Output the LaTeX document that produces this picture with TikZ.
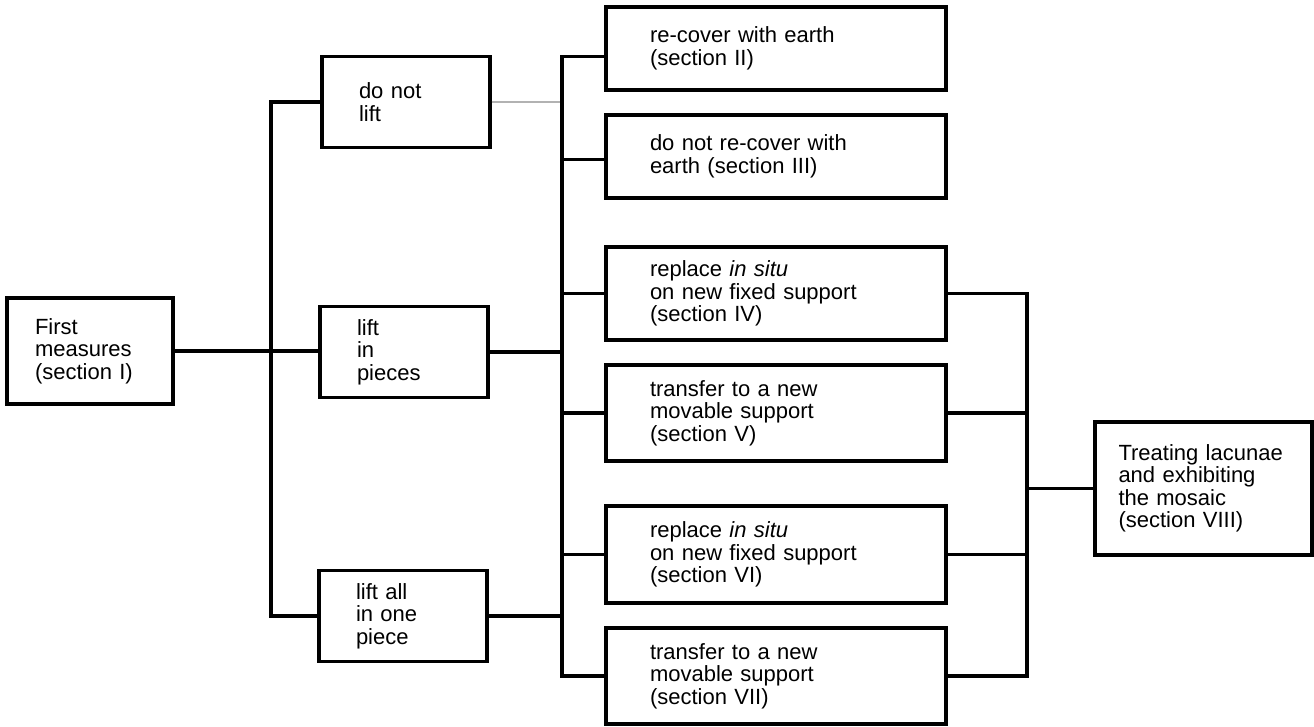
\documentclass[tikz,border=0pt]{standalone}
\usepackage{fontspec}
\setmainfont{Liberation Sans}
\begin{document}
\begin{tikzpicture}[x=1pt,y=-1pt,
    box/.style={draw, line width=3.2pt, align=left, inner ysep=0pt,
      font=\fontsize{22}{22.5}\selectfont},
    firstbox/.style={box, text width=110pt, inner xsep=28pt},
    liftbox/.style={box, text width=94pt, inner xsep=37pt, minimum height=91pt},
    sectbox/.style={box, text width=252pt, inner xsep=44pt},
    link/.style={line width=3.2pt, line cap=rect},
    faint/.style={line width=1.2pt, gray!60}]
  \useasboundingbox (0,0) rectangle (1314,726);
  % boxes
  \node [firstbox, minimum height=106pt] (fm) at (90,351) {First\\measures\\(section I)};
  \node [liftbox] (dnl) at (406,102) {do not\\lift};
  \node [liftbox] (lip) at (404,352) {lift\\in\\pieces};
  \node [liftbox] (lao) at (403,616) {lift all\\in one\\piece};
  \node [sectbox, minimum height=83pt] (s2) at (776,48.5) {re-cover with earth\\(section II)};
  \node [sectbox, minimum height=83pt] (s3) at (776,156.5) {do not re-cover with\\earth (section III)};
  \node [sectbox, minimum height=93pt] (s4) at (776,293.5) {replace \textit{in situ}\\on new fixed support\\(section IV)};
  \node [sectbox, minimum height=96pt] (s5) at (776,413) {transfer to a new\\movable support\\(section V)};
  \node [sectbox, minimum height=97pt] (s6) at (776,554.5) {replace \textit{in situ}\\on new fixed support\\(section VI)};
  \node [sectbox, minimum height=96pt] (s7) at (776,676) {transfer to a new\\movable support\\(section VII)};
  \node [box, text width=170pt, inner xsep=23.5pt, minimum height=133pt] (tr) at (1203.5,488.5) {Treating lacunae\\and exhibiting\\the mosaic\\(section VIII)};
  % buses
  \coordinate (b1) at (271,0);
  \coordinate (b2) at (562,0);
  \coordinate (b3) at (1027,0);
  \draw [link] (fm.east) -- (fm.east -| lip.west);
  \draw [link] (dnl.west -| b1) -- (lao.west -| b1);
  \draw [link] (dnl.west -| b1) -- (dnl.west);
  \draw [link] (lao.west -| b1) -- (lao.west);
  \draw [faint] (dnl.east) -- (dnl.east -| b2);
  \draw [link] (lip.east) -- (lip.east -| b2);
  \draw [link] (lao.east) -- (lao.east -| b2);
  \draw [link] ([yshift=-8pt]s2.west -| b2) -- (s7.west -| b2);
  \draw [link] ([yshift=-8pt]s2.west) -- ([yshift=-8pt]s2.west -| b2);
  \draw [link] ([yshift=-3pt]s3.west) -- ([yshift=-3pt]s3.west -| b2);
  \foreach \n in {s4,s5,s6,s7}
    \draw [link] (\n.west) -- (\n.west -| b2);
  \draw [link] (s4.east -| b3) -- (s7.east -| b3);
  \foreach \n in {s4,s5,s6,s7}
    \draw [link] (\n.east) -- (\n.east -| b3);
  \draw [link] (tr.west -| b3) -- (tr.west);
\end{tikzpicture}
\end{document}
